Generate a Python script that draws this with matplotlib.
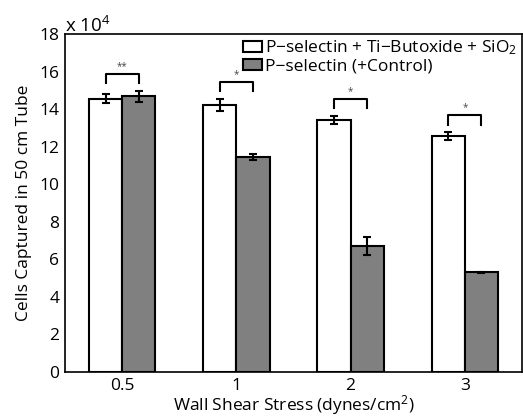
import numpy as np
import matplotlib
matplotlib.use("Agg")
import matplotlib.pyplot as plt

plt.rcParams['font.family'] = ['Open Sans', 'DejaVu Sans']
plt.rcParams['mathtext.fontset'] = 'custom'
plt.rcParams['mathtext.rm'] = 'Open Sans'
plt.rcParams['mathtext.it'] = 'Open Sans:italic'

# values in units of 10^4 cells
shear = ['0.5', '1', '2', '3']
coated = [14.55, 14.22, 13.42, 12.55]
coated_err = [0.25, 0.33, 0.23, 0.22]
control = [14.68, 11.45, 6.70, 5.30]
control_err = [0.30, 0.18, 0.47, 0.05]
signif = ['**', '*', '*', '*']

fig = plt.figure(figsize=(5.23, 4.2), dpi=100)
ax = fig.add_axes([65/523, 48/420, 457/523, 338/420])

x = np.arange(1, len(shear) + 1)
w = 0.29
ax.bar(x - w/2, coated, w, color='white', edgecolor='black', linewidth=1.5,
       label='P\u2212selectin + Ti\u2212Butoxide + SiO$_2$', zorder=2)
ax.bar(x + w/2, control, w, color='#808080', edgecolor='black', linewidth=1.5,
       label='P\u2212selectin (+Control)', zorder=2)
ax.errorbar(x - w/2, coated, yerr=coated_err, fmt='none', ecolor='black',
            elinewidth=1.5, capsize=3, capthick=1.5, zorder=3)
ax.errorbar(x + w/2, control, yerr=control_err, fmt='none', ecolor='black',
            elinewidth=1.5, capsize=3, capthick=1.5, zorder=3)

# significance brackets
for i in range(len(x)):
    top = max(coated[i] + coated_err[i], control[i] + control_err[i])
    y0 = top + 0.4
    y1 = y0 + 0.5
    ax.plot([x[i] - w/2, x[i] - w/2, x[i] + w/2, x[i] + w/2], [y0, y1, y1, y0],
            color='black', linewidth=1.5, zorder=3)
    ax.text(x[i], y1 + 0.1, signif[i], ha='center', va='bottom', fontsize=7,
            color='#444444', zorder=6)

ax.set_xlim(0.5, 4.5)
ax.set_ylim(0, 18)
ax.set_xticks(x)
ax.set_xticklabels(shear)
ax.set_yticks(np.arange(0, 19, 2))
ax.tick_params(length=0, labelsize=12.5, pad=4)
for s in ax.spines.values():
    s.set_linewidth(1.2)

ax.text(0, 0.995, 'x 10$^4$', transform=ax.transAxes, ha='left', va='bottom',
        fontsize=13.5)
ax.set_xlabel('Wall Shear Stress (dynes/cm$^2$)', fontsize=12.5, labelpad=0)
ax.set_ylabel('Cells Captured in 50 cm Tube', fontsize=12.5, labelpad=5)

leg = ax.legend(loc='upper right', frameon=False, fontsize=12.5,
                handlelength=1.1, handleheight=0.6, handletextpad=0.2,
                labelspacing=0.1, borderaxespad=0.05, borderpad=0.2)
leg.set_zorder(4)

fig.savefig('out.png', dpi=100)
